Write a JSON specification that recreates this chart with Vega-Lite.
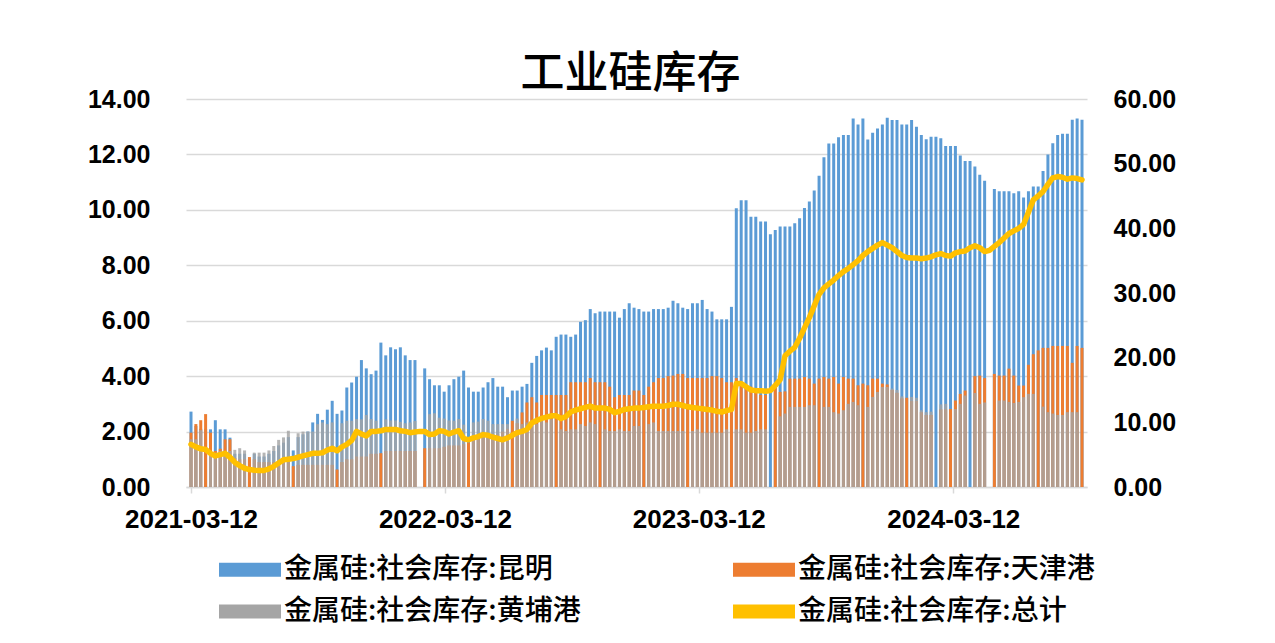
{
"$schema":"https://vega.github.io/schema/vega-lite/v6.json",
"width":901,"height":388,
"autosize":"none",
"padding":{"left":186,"top":99,"right":188,"bottom":156},
"background":"white",
"title":{"text":"工业硅库存","font":"Noto Sans CJK SC","fontSize":44,"fontWeight":500,"color":"#000000","anchor":"middle","offset":-10,"dx":-6},
"config":{"view":{"stroke":null},"axis":{"labelFont":"Liberation Sans","labelFontWeight":"bold","labelFontSize":25,"labelColor":"#000000","title":null}},
"data":{"values":[
{"d":"2021-03-12","昆明":2.72,"天津港":1.96,"黄埔港":1.72,"总计":6.6},
{"d":"2021-03-19","昆明":2.2,"天津港":2.27,"黄埔港":1.72,"总计":6.2},
{"d":"2021-03-26","昆明":2.1,"天津港":2.41,"黄埔港":2.05,"总计":5.9},
{"d":"2021-04-02","昆明":2.1,"天津港":2.63,"黄埔港":null,"总计":5.8},
{"d":"2021-04-09","昆明":2.08,"天津港":1.96,"黄埔港":1.2,"总计":5.2},
{"d":"2021-04-16","昆明":2.41,"天津港":1.3,"黄埔港":1.24,"总计":4.8},
{"d":"2021-04-23","昆明":2.08,"天津港":1.38,"黄埔港":1.3,"总计":5.0},
{"d":"2021-04-30","昆明":2.08,"天津港":1.72,"黄埔港":1.3,"总计":5.2},
{"d":"2021-05-07","昆明":1.78,"天津港":1.72,"黄埔港":1.3,"总计":4.6},
{"d":"2021-05-14","昆明":1.2,"天津港":1.05,"黄埔港":1.34,"总计":3.8},
{"d":"2021-05-21","昆明":1.2,"天津港":1.0,"黄埔港":1.4,"总计":3.3},
{"d":"2021-05-28","昆明":1.2,"天津港":1.0,"黄埔港":1.32,"总计":2.9},
{"d":"2021-06-04","昆明":1.0,"天津港":1.08,"黄埔港":null,"总计":2.7},
{"d":"2021-06-11","昆明":1.2,"天津港":1.0,"黄埔港":1.24,"总计":2.6},
{"d":"2021-06-18","昆明":1.1,"天津港":0.9,"黄埔港":1.24,"总计":2.55},
{"d":"2021-06-25","昆明":1.1,"天津港":0.9,"黄埔港":1.24,"总计":2.55},
{"d":"2021-07-02","昆明":1.2,"天津港":0.9,"黄埔港":1.32,"总计":2.8},
{"d":"2021-07-09","昆明":1.3,"天津港":0.9,"黄埔港":1.48,"总计":3.2},
{"d":"2021-07-16","昆明":1.5,"天津港":0.9,"黄埔港":1.7,"总计":3.7},
{"d":"2021-07-23","昆明":1.6,"天津港":0.9,"黄埔港":1.79,"总计":4.2},
{"d":"2021-07-30","昆明":1.8,"天津港":0.9,"黄埔港":2.03,"总计":4.3},
{"d":"2021-08-06","昆明":1.32,"天津港":0.75,"黄埔港":null,"总计":4.4},
{"d":"2021-08-13","昆明":1.8,"天津港":0.8,"黄埔港":1.94,"总计":4.6},
{"d":"2021-08-20","昆明":1.9,"天津港":0.8,"黄埔港":2.0,"总计":4.8},
{"d":"2021-08-27","昆明":2.0,"天津港":0.8,"黄埔港":2.0,"总计":5.0},
{"d":"2021-09-03","昆明":2.33,"天津港":0.8,"黄埔港":2.0,"总计":5.2},
{"d":"2021-09-10","昆明":2.64,"天津港":0.8,"黄埔港":2.27,"总计":5.2},
{"d":"2021-09-17","昆明":2.42,"天津港":0.8,"黄埔港":2.33,"总计":5.3},
{"d":"2021-09-24","昆明":2.79,"天津港":0.8,"黄埔港":2.27,"总计":5.7},
{"d":"2021-10-01","昆明":3.11,"天津港":0.8,"黄埔港":2.33,"总计":6.0},
{"d":"2021-10-08","昆明":2.64,"天津港":0.63,"黄埔港":null,"总计":5.6},
{"d":"2021-10-15","昆明":2.76,"天津港":0.9,"黄埔港":2.3,"总计":6.2},
{"d":"2021-10-22","昆明":3.59,"天津港":1.0,"黄埔港":2.39,"总计":6.6},
{"d":"2021-10-29","昆明":3.77,"天津港":1.0,"黄埔港":2.39,"总计":7.2},
{"d":"2021-11-05","昆明":3.98,"天津港":1.1,"黄埔港":2.45,"总计":8.6},
{"d":"2021-11-12","昆明":4.58,"天津港":1.1,"黄埔港":2.44,"总计":8.2},
{"d":"2021-11-19","昆明":4.28,"天津港":1.1,"黄埔港":2.6,"总计":7.9},
{"d":"2021-11-26","昆明":4.07,"天津港":1.2,"黄埔港":2.45,"总计":8.6},
{"d":"2021-12-03","昆明":4.2,"天津港":1.2,"黄埔港":2.39,"总计":8.6},
{"d":"2021-12-10","昆明":5.21,"天津港":1.22,"黄埔港":null,"总计":8.7},
{"d":"2021-12-17","昆明":4.75,"天津港":1.3,"黄埔港":2.44,"总计":8.9},
{"d":"2021-12-24","昆明":5.04,"天津港":1.3,"黄埔港":2.4,"总计":8.9},
{"d":"2021-12-31","昆明":4.97,"天津港":1.3,"黄埔港":2.4,"总计":8.9},
{"d":"2022-01-07","昆明":5.04,"天津港":1.3,"黄埔港":2.35,"总计":8.7},
{"d":"2022-01-14","昆明":4.75,"天津港":1.3,"黄埔港":2.3,"总计":8.6},
{"d":"2022-01-21","昆明":4.58,"天津港":1.3,"黄埔港":2.33,"总计":8.4},
{"d":"2022-01-28","昆明":4.58,"天津港":1.3,"黄埔港":2.38,"总计":8.5},
{"d":"2022-02-04","昆明":null,"天津港":null,"黄埔港":null,"总计":8.6},
{"d":"2022-02-11","昆明":4.28,"天津港":1.4,"黄埔港":null,"总计":8.6},
{"d":"2022-02-18","昆明":3.89,"天津港":1.4,"黄埔港":2.63,"总计":8.1},
{"d":"2022-02-25","昆明":3.67,"天津港":1.4,"黄埔港":2.66,"总计":8.2},
{"d":"2022-03-04","昆明":3.67,"天津港":1.4,"黄埔港":2.5,"总计":8.7},
{"d":"2022-03-11","昆明":3.44,"天津港":1.45,"黄埔港":2.47,"总计":8.6},
{"d":"2022-03-18","昆明":3.67,"天津港":1.5,"黄埔港":2.4,"总计":8.2},
{"d":"2022-03-25","昆明":3.89,"天津港":1.5,"黄埔港":2.39,"总计":8.5},
{"d":"2022-04-01","昆明":3.98,"天津港":1.5,"黄埔港":2.45,"总计":8.7},
{"d":"2022-04-08","昆明":4.2,"天津港":1.55,"黄埔港":2.25,"总计":7.5},
{"d":"2022-04-15","昆明":3.59,"天津港":1.6,"黄埔港":null,"总计":7.3},
{"d":"2022-04-22","昆明":3.44,"天津港":1.7,"黄埔港":2.33,"总计":7.6},
{"d":"2022-04-29","昆明":3.44,"天津港":1.75,"黄埔港":2.36,"总计":7.8},
{"d":"2022-05-06","昆明":3.59,"天津港":1.8,"黄埔港":2.45,"总计":8.1},
{"d":"2022-05-13","昆明":3.78,"天津港":1.8,"黄埔港":2.39,"总计":8.0},
{"d":"2022-05-20","昆明":3.93,"天津港":1.9,"黄埔港":2.27,"总计":7.7},
{"d":"2022-05-27","昆明":3.62,"天津港":1.9,"黄埔港":2.27,"总计":7.5},
{"d":"2022-06-03","昆明":3.62,"天津港":2.0,"黄埔港":2.27,"总计":7.3},
{"d":"2022-06-10","昆明":3.24,"天津港":2.1,"黄埔港":2.27,"总计":7.6},
{"d":"2022-06-17","昆明":3.48,"天津港":2.39,"黄埔港":null,"总计":8.0},
{"d":"2022-06-24","昆明":3.48,"天津港":2.3,"黄埔港":2.47,"总计":8.4},
{"d":"2022-07-01","昆明":3.62,"天津港":2.69,"黄埔港":2.27,"总计":8.6},
{"d":"2022-07-08","昆明":3.72,"天津港":3.05,"黄埔港":2.33,"总计":8.9},
{"d":"2022-07-15","昆明":4.48,"天津港":3.24,"黄埔港":2.2,"总计":9.9},
{"d":"2022-07-22","昆明":4.73,"天津港":3.05,"黄埔港":2.27,"总计":10.3},
{"d":"2022-07-29","昆明":4.93,"天津港":3.32,"黄埔港":2.39,"总计":10.6},
{"d":"2022-08-05","昆明":5.03,"天津港":3.32,"黄埔港":2.33,"总计":10.8},
{"d":"2022-08-12","昆明":4.93,"天津港":3.32,"黄埔港":2.45,"总计":11.0},
{"d":"2022-08-19","昆明":5.42,"天津港":3.32,"黄埔港":null,"总计":11.0},
{"d":"2022-08-26","昆明":5.5,"天津港":3.32,"黄埔港":2.08,"总计":10.6},
{"d":"2022-09-02","昆明":5.5,"天津港":3.32,"黄埔港":2.02,"总计":10.9},
{"d":"2022-09-09","昆明":5.42,"天津港":3.78,"黄埔港":2.08,"总计":11.6},
{"d":"2022-09-16","昆明":5.5,"天津港":3.78,"黄埔港":2.08,"总计":11.9},
{"d":"2022-09-23","昆明":5.96,"天津港":3.78,"黄埔港":2.27,"总计":12.1},
{"d":"2022-09-30","昆明":6.02,"天津港":3.78,"黄埔港":2.2,"总计":12.3},
{"d":"2022-10-07","昆明":6.42,"天津港":3.93,"黄埔港":2.33,"总计":12.5},
{"d":"2022-10-14","昆明":6.27,"天津港":3.78,"黄埔港":2.27,"总计":12.2},
{"d":"2022-10-21","昆明":6.33,"天津港":3.78,"黄埔港":null,"总计":12.2},
{"d":"2022-10-28","昆明":6.33,"天津港":3.78,"黄埔港":2.08,"总计":12.2},
{"d":"2022-11-04","昆明":6.33,"天津港":3.62,"黄埔港":2.02,"总计":12.0},
{"d":"2022-11-11","昆明":6.33,"天津港":3.24,"黄埔港":2.02,"总计":11.5},
{"d":"2022-11-18","昆明":6.11,"天津港":3.32,"黄埔港":2.08,"总计":11.7},
{"d":"2022-11-25","昆明":6.42,"天津港":3.32,"黄埔港":2.02,"总计":12.0},
{"d":"2022-12-02","昆明":6.63,"天津港":3.32,"黄埔港":2.02,"总计":12.1},
{"d":"2022-12-09","昆明":6.47,"天津港":3.48,"黄埔港":2.2,"总计":12.2},
{"d":"2022-12-16","昆明":6.42,"天津港":3.48,"黄埔港":2.2,"总计":12.2},
{"d":"2022-12-23","昆明":6.33,"天津港":3.32,"黄埔港":null,"总计":12.3},
{"d":"2022-12-30","昆明":6.33,"天津港":3.62,"黄埔港":2.27,"总计":12.4},
{"d":"2023-01-06","昆明":6.42,"天津港":3.78,"黄埔港":2.33,"总计":12.5},
{"d":"2023-01-13","昆明":6.42,"天津港":3.93,"黄埔港":2.02,"总计":12.5},
{"d":"2023-01-20","昆明":6.42,"天津港":3.93,"黄埔港":2.02,"总计":12.5},
{"d":"2023-01-27","昆明":6.47,"天津港":4.0,"黄埔港":2.02,"总计":12.6},
{"d":"2023-02-03","昆明":6.72,"天津港":4.02,"黄埔港":2.02,"总计":12.8},
{"d":"2023-02-10","昆明":6.63,"天津港":4.08,"黄埔港":2.02,"总计":12.8},
{"d":"2023-02-17","昆明":6.47,"天津港":4.08,"黄埔港":2.02,"总计":12.6},
{"d":"2023-02-24","昆明":6.42,"天津港":3.93,"黄埔港":null,"总计":12.4},
{"d":"2023-03-03","昆明":6.63,"天津港":3.93,"黄埔港":2.02,"总计":12.3},
{"d":"2023-03-10","昆明":6.63,"天津港":3.93,"黄埔港":2.08,"总计":12.2},
{"d":"2023-03-17","昆明":6.75,"天津港":3.93,"黄埔港":1.96,"总计":12.1},
{"d":"2023-03-24","昆明":6.42,"天津港":3.93,"黄埔港":1.96,"总计":12.0},
{"d":"2023-03-31","昆明":6.33,"天津港":4.0,"黄埔港":1.96,"总计":11.9},
{"d":"2023-04-07","昆明":6.05,"天津港":4.0,"黄埔港":1.96,"总计":11.7},
{"d":"2023-04-14","昆明":6.05,"天津港":3.93,"黄埔港":1.96,"总计":11.6},
{"d":"2023-04-21","昆明":6.05,"天津港":3.78,"黄埔港":2.08,"总计":11.8},
{"d":"2023-04-28","昆明":6.5,"天津港":3.78,"黄埔港":null,"总计":12.0},
{"d":"2023-05-05","昆明":10.06,"天津港":3.93,"黄埔港":2.08,"总计":16.0},
{"d":"2023-05-12","昆明":10.35,"天津港":3.78,"黄埔港":2.08,"总计":16.0},
{"d":"2023-05-19","昆明":10.35,"天津港":3.62,"黄埔港":1.96,"总计":15.5},
{"d":"2023-05-26","昆明":9.75,"天津港":3.62,"黄埔港":1.96,"总计":15.0},
{"d":"2023-06-02","昆明":9.75,"天津港":3.48,"黄埔港":2.02,"总计":14.9},
{"d":"2023-06-09","昆明":9.58,"天津港":3.32,"黄埔港":2.08,"总计":14.9},
{"d":"2023-06-16","昆明":9.58,"天津港":3.32,"黄埔港":2.08,"总计":14.8},
{"d":"2023-06-23","昆明":9.12,"天津港":null,"黄埔港":null,"总计":14.9},
{"d":"2023-06-30","昆明":9.27,"天津港":3.6,"黄埔港":null,"总计":15.7},
{"d":"2023-07-07","昆明":9.4,"天津港":3.43,"黄埔港":2.55,"总计":16.6},
{"d":"2023-07-14","昆明":9.4,"天津港":3.45,"黄埔港":2.65,"总计":20.3},
{"d":"2023-07-21","昆明":9.4,"天津港":3.91,"黄埔港":2.89,"总计":21.0},
{"d":"2023-07-28","昆明":9.52,"天津港":3.91,"黄埔港":2.89,"总计":21.6},
{"d":"2023-08-04","昆明":9.7,"天津港":3.91,"黄埔港":2.89,"总计":23.0},
{"d":"2023-08-11","昆明":10.07,"天津港":3.97,"黄埔港":2.89,"总计":24.6},
{"d":"2023-08-18","昆明":10.3,"天津港":3.91,"黄埔港":2.95,"总计":26.2},
{"d":"2023-08-25","昆明":10.7,"天津港":3.73,"黄埔港":2.95,"总计":28.0},
{"d":"2023-09-01","昆明":11.23,"天津港":3.91,"黄埔港":null,"总计":29.8},
{"d":"2023-09-08","昆明":11.9,"天津港":3.97,"黄埔港":2.89,"总计":30.8},
{"d":"2023-09-15","昆明":12.39,"天津港":3.91,"黄埔港":2.89,"总计":31.4},
{"d":"2023-09-22","昆明":12.39,"天津港":3.97,"黄埔港":2.7,"总计":32.0},
{"d":"2023-09-29","昆明":12.62,"天津港":3.73,"黄埔港":2.65,"总计":32.7},
{"d":"2023-10-06","昆明":12.7,"天津港":3.97,"黄埔港":2.77,"总计":33.3},
{"d":"2023-10-13","昆明":12.7,"天津港":3.91,"黄埔港":3.0,"总计":33.8},
{"d":"2023-10-20","昆明":13.3,"天津港":3.91,"黄埔港":3.07,"总计":34.4},
{"d":"2023-10-27","昆明":13.08,"天津港":3.67,"黄埔港":2.95,"总计":35.0},
{"d":"2023-11-03","昆明":13.3,"天津港":3.73,"黄埔港":null,"总计":35.8},
{"d":"2023-11-10","昆明":12.54,"天津港":3.67,"黄埔港":2.89,"总计":36.4},
{"d":"2023-11-17","昆明":12.78,"天津港":3.91,"黄埔港":3.25,"总计":36.9},
{"d":"2023-11-24","昆明":12.94,"天津港":3.91,"黄埔港":3.43,"总计":37.4},
{"d":"2023-12-01","昆明":13.08,"天津港":3.73,"黄埔港":3.61,"总计":37.8},
{"d":"2023-12-08","昆明":13.32,"天津港":3.7,"黄埔港":3.61,"总计":37.4},
{"d":"2023-12-15","昆明":13.24,"天津港":3.5,"黄埔港":3.55,"总计":37.0},
{"d":"2023-12-22","昆明":13.24,"天津港":3.4,"黄埔港":3.5,"总计":36.4},
{"d":"2023-12-29","昆明":13.08,"天津港":3.2,"黄埔港":3.27,"总计":35.8},
{"d":"2024-01-05","昆明":13.08,"天津港":3.22,"黄埔港":null,"总计":35.5},
{"d":"2024-01-12","昆明":13.24,"天津港":3.1,"黄埔港":3.25,"总计":35.4},
{"d":"2024-01-19","昆明":13.0,"天津港":3.1,"黄埔港":3.22,"总计":35.4},
{"d":"2024-01-26","昆明":12.7,"天津港":2.7,"黄埔港":2.77,"总计":35.3},
{"d":"2024-02-02","昆明":12.55,"天津港":2.6,"黄埔港":2.7,"总计":35.4},
{"d":"2024-02-09","昆明":12.64,"天津港":2.6,"黄埔港":2.72,"总计":35.6},
{"d":"2024-02-16","昆明":12.64,"天津港":null,"黄埔港":null,"总计":35.9},
{"d":"2024-02-23","昆明":12.58,"天津港":2.8,"黄埔港":2.98,"总计":36.1},
{"d":"2024-03-01","昆明":12.3,"天津港":2.8,"黄埔港":3.0,"总计":35.8},
{"d":"2024-03-08","昆明":12.3,"天津港":2.81,"黄埔港":null,"总计":35.7},
{"d":"2024-03-15","昆明":12.3,"天津港":3.12,"黄埔港":2.81,"总计":36.2},
{"d":"2024-03-22","昆明":11.96,"天津港":3.36,"黄埔港":3.0,"总计":36.4},
{"d":"2024-03-29","昆明":11.76,"天津港":3.48,"黄埔港":3.3,"总计":36.5},
{"d":"2024-04-05","昆明":11.76,"天津港":null,"黄埔港":null,"总计":37.0},
{"d":"2024-04-12","昆明":11.56,"天津港":4.0,"黄埔港":3.39,"总计":37.3},
{"d":"2024-04-19","昆明":11.27,"天津港":4.02,"黄埔港":3.0,"总计":37.0},
{"d":"2024-04-26","昆明":11.05,"天津港":3.93,"黄埔港":3.05,"总计":36.4},
{"d":"2024-05-03","昆明":null,"天津港":null,"黄埔港":null,"总计":36.6},
{"d":"2024-05-10","昆明":10.75,"天津港":4.08,"黄埔港":null,"总计":37.2},
{"d":"2024-05-17","昆明":10.67,"天津港":4.02,"黄埔港":3.12,"总计":37.8},
{"d":"2024-05-24","昆明":10.67,"天津港":4.02,"黄埔港":3.12,"总计":38.5},
{"d":"2024-05-31","昆明":10.67,"天津港":4.27,"黄埔港":3.07,"总计":39.2},
{"d":"2024-06-07","昆明":10.6,"天津港":4.02,"黄埔港":3.03,"总计":39.6},
{"d":"2024-06-14","昆明":10.67,"天津港":3.66,"黄埔港":3.07,"总计":40.0},
{"d":"2024-06-21","昆明":10.45,"天津港":3.66,"黄埔港":3.24,"总计":40.6},
{"d":"2024-06-28","昆明":10.67,"天津港":4.41,"黄埔港":3.36,"总计":42.5},
{"d":"2024-07-05","昆明":10.84,"天津港":4.79,"黄埔港":3.36,"总计":44.4},
{"d":"2024-07-12","昆明":10.84,"天津港":4.93,"黄埔港":null,"总计":45.0},
{"d":"2024-07-19","昆明":11.4,"天津港":5.02,"黄埔港":2.9,"总计":45.7},
{"d":"2024-07-26","昆明":12.0,"天津港":5.02,"黄埔港":2.7,"总计":46.8},
{"d":"2024-08-02","昆明":12.4,"天津港":5.09,"黄埔港":2.65,"总计":47.8},
{"d":"2024-08-09","昆明":12.7,"天津港":5.09,"黄埔港":2.6,"总计":48.0},
{"d":"2024-08-16","昆明":12.75,"天津港":5.09,"黄埔港":2.6,"总计":47.9},
{"d":"2024-08-23","昆明":12.75,"天津港":5.09,"黄埔港":2.7,"总计":47.6},
{"d":"2024-08-30","昆明":13.25,"天津港":4.48,"黄埔港":2.7,"总计":47.8},
{"d":"2024-09-06","昆明":13.3,"天津港":5.09,"黄埔港":2.7,"总计":47.7},
{"d":"2024-09-13","昆明":13.25,"天津港":5.02,"黄埔港":null,"总计":47.5}
]},
"encoding":{
  "x":{"field":"d","type":"temporal",
       "scale":{"type":"utc","domain":[{"year":2021,"month":3,"date":12,"utc":true},{"year":2024,"month":9,"date":13,"utc":true}]},
       "axis":{"values":[{"year":2021,"month":3,"date":12,"utc":true},{"year":2022,"month":3,"date":12,"utc":true},{"year":2023,"month":3,"date":12,"utc":true},{"year":2024,"month":3,"date":12,"utc":true}],
               "labelExpr":"utcFormat(datum.value, '%Y-%m-%d')","labelFontSize":26,"labelDx":-3,"grid":false,"domainColor":"#D9D9D9","domainWidth":1.5,"tickColor":"#D9D9D9","tickWidth":1.5,"tickSize":6,"labelPadding":13,"labelOverlap":false}}
},
"layer":[
{"transform":[{"fold":["昆明","天津港","黄埔港"],"as":["series","value"]}],
 "mark":{"type":"bar","width":3},
 "encoding":{
  "y":{"field":"value","type":"quantitative","stack":null,"scale":{"domain":[0,14]},
       "axis":{"values":[0,2,4,6,8,10,12,14],"format":".2f","domain":false,"ticks":false,"grid":true,"gridColor":"#D9D9D9","gridWidth":1.5,"labelPadding":36}},
  "color":{"field":"series","type":"nominal",
       "scale":{"domain":["昆明","天津港","黄埔港","总计"],"range":["#5B9BD5","#ED7D31","#A5A5A5","#FFC000"]},
       "legend":{"orient":"none","legendX":49.5,"legendY":456,"columns":2,"direction":"horizontal","title":null,"padding":0,
                 "symbolType":"M-2.296,-0.52H2.296V0.52H-2.296Z","symbolSize":729,
                 "labelFont":"Noto Sans CJK SC","labelFontSize":28,"labelFontWeight":500,"labelColor":"#000000","labelOffset":19.5,"labelLimit":0,
                 "columnPadding":151,"rowPadding":13,
                 "labelExpr":"'金属硅:社会库存:' + datum.label",
                 "encode":{"symbols":{"update":{
                    "shape":{"signal":"datum.value === '总计' ? 'M-2.296,0H2.296' : 'M-2.296,-0.52H2.296V0.52H-2.296Z'"},
                    "stroke":{"signal":"datum.value === '总计' ? '#FFC000' : 'transparent'"},
                    "strokeWidth":{"signal":"datum.value === '总计' ? 6 : 0"}}}}}},
  "opacity":{"condition":{"test":"datum.series === '黄埔港'","value":0.82},"value":1}
 }},
{"mark":{"type":"line","color":"#FFC000","strokeWidth":5.5,"strokeCap":"round","strokeJoin":"round"},
 "encoding":{
  "y":{"field":"总计","type":"quantitative","scale":{"domain":[0,60]},
       "axis":{"orient":"right","values":[0,10,20,30,40,50,60],"format":".2f","domain":false,"ticks":false,"grid":false,"labelPadding":26}}
 }}
],
"resolve":{"scale":{"y":"independent"}}
}
